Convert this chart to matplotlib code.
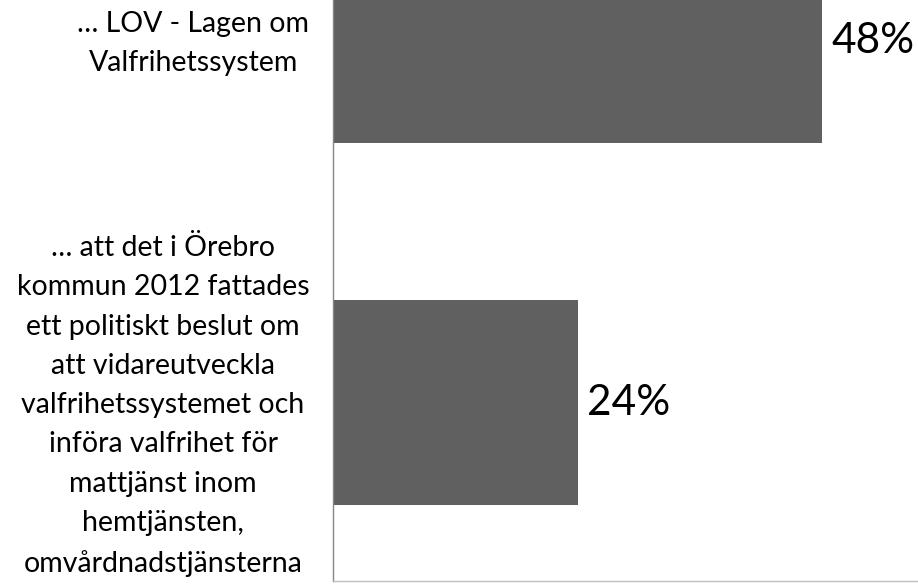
import matplotlib.pyplot as plt
import matplotlib.transforms as mtransforms

# データ
categories = [
    "… att det i Örebro\nkommun 2012 fattades\nett politiskt beslut om\natt vidareutveckla\nvalfrihetssystemet och\ninföra valfrihet för\nmattjänst inom\nhemtjänsten,\nomvårdnadstjänsterna",
    "… LOV - Lagen om\nValfrihetssystem",
]
values = [24, 48]
value_labels = ["24%", "48%"]

plt.rcParams['font.family'] = ['Lato', 'DejaVu Sans']

fig = plt.figure(figsize=(9.18, 5.87), dpi=100)
ax = fig.add_axes([333 / 918, 6 / 587, 1 - 333 / 918, 581 / 587])

pos = list(range(len(categories)))
ax.barh(pos, values, height=0.566, color='#606060', zorder=2)

# 値ラベル
for p, v, lab in zip(pos, values, value_labels):
    ax.text(v + 0.9, p, lab, va='center', ha='left', fontsize=30.5, color='black')

ax.set_yticks(pos)
ax.set_yticklabels(categories, fontsize=20.5, multialignment='center',
                   linespacing=1.63)
ax.tick_params(axis='y', length=0, pad=17)
ax.set_xticks([])

# ラベルを少し上にずらす
offset = mtransforms.ScaledTranslation(0, 0.06, fig.dpi_scale_trans)
for lbl in ax.get_yticklabels():
    lbl.set_transform(lbl.get_transform() + offset)

ax.set_xlim(0, 57.4)
ax.set_ylim(-0.493, 1.112)

for s in ['top', 'right']:
    ax.spines[s].set_visible(False)
ax.spines['left'].set_color('#868686')
ax.spines['left'].set_linewidth(1.0)
ax.spines['bottom'].set_color('#bfbfbf')
ax.spines['bottom'].set_linewidth(1.0)

plt.savefig('out.png', dpi=100)
